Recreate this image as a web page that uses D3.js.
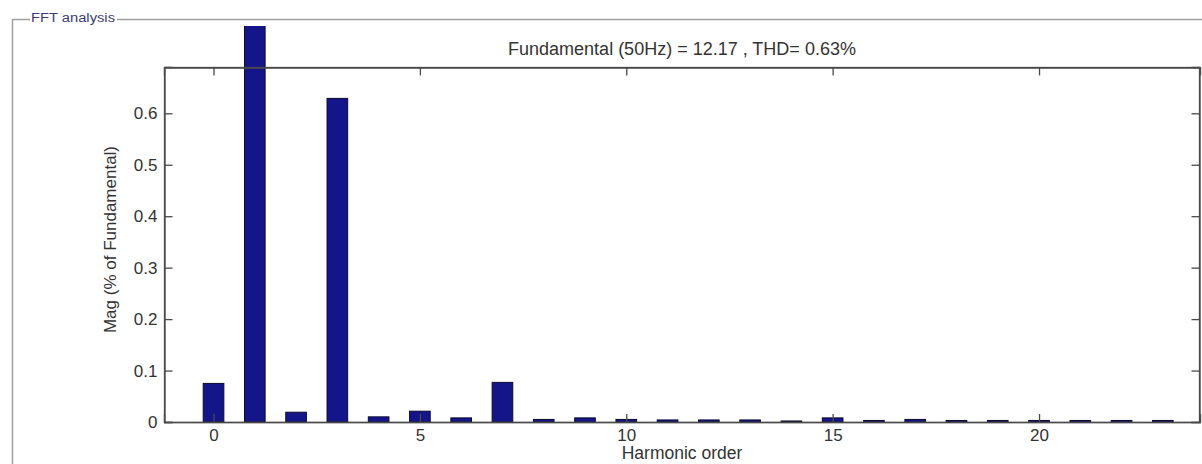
<!DOCTYPE html>
<html>
<head>
<meta charset="utf-8">
<script src="https://cdn.jsdelivr.net/npm/d3@7"></script>
<style>
  html, body { margin: 0; padding: 0; background: #fff; overflow: hidden; }
  svg { display: block; font-family: "Liberation Sans", Arial, sans-serif; }
</style>
</head>
<body>
<svg id="chart" width="1202" height="464"></svg>
<script>
// ---- data ----
const harmonics = [0,1,2,3,4,5,6,7,8,9,10,11,12,13,14,15,16,17,18,19,20,21,22,23];
const magnitudes = [0.075,100,0.019,0.629,0.010,0.021,0.008,0.077,0.005,0.008,0.005,0.004,0.004,0.004,0.002,0.008,0.003,0.005,0.003,0.003,0.003,0.003,0.003,0.003];
const xTicks = [0,5,10,15,20];
const yTicks = [0,0.1,0.2,0.3,0.4,0.5,0.6];
const titleText = "Fundamental (50Hz) = 12.17 , THD= 0.63%";
const xLabel = "Harmonic order";
const yLabel = "Mag (% of Fundamental)";
const panelLabel = "FFT analysis";

// ---- layout ----
const W = 1202, H = 464;
const plot = { left: 164, right: 1200, top: 67, bottom: 422 };
const svg = d3.select("#chart");

const x = d3.scaleLinear().domain([-1.2, 23.9]).range([plot.left, plot.right]);
const y = d3.scaleLinear().domain([0, 0.69]).range([plot.bottom, plot.top]);
const barW = x(0.5) - x(0);

// panel frame
const panelColor = "#a0a0a0";
svg.append("path")
  .attr("d", `M30,19.5 H12.5 V464`)
  .attr("fill", "none").attr("stroke", panelColor).attr("stroke-width", 1.5);
svg.append("path")
  .attr("d", `M117,19.5 H1202`)
  .attr("fill", "none").attr("stroke", panelColor).attr("stroke-width", 1.5);
svg.append("text")
  .attr("x", 31).attr("y", 21.5)
  .attr("font-size", 12).attr("fill", "#3b3b72")
  .attr("textLength", 84).attr("lengthAdjust", "spacingAndGlyphs")
  .text(panelLabel);

// clip: bars may exceed the axes but are cut by the panel
svg.append("clipPath").attr("id", "barclip")
  .append("rect").attr("x", 0).attr("y", 26).attr("width", W).attr("height", H);

// bars
svg.append("g").attr("clip-path", "url(#barclip)")
  .selectAll("rect").data(harmonics).join("rect")
  .attr("x", (d) => x(d) - barW / 2)
  .attr("y", (d, i) => y(magnitudes[i]))
  .attr("width", barW)
  .attr("height", (d, i) => y(0) - y(magnitudes[i]))
  .attr("fill", "#15158a")
  .attr("stroke", "#0a0a30")
  .attr("stroke-width", 1);

const axisColor = "#4a4a4a";
const tickLen = 8;
const fs = 17;
const textColor = "#333";

// box
svg.append("rect")
  .attr("x", plot.left + 0.5).attr("y", plot.top + 0.5)
  .attr("width", plot.right - plot.left - 1).attr("height", plot.bottom - plot.top)
  .attr("fill", "none").attr("stroke", axisColor).attr("stroke-width", 1.3);

const bottomAxis = d3.axisBottom(x).tickValues(xTicks).tickSize(-tickLen).tickPadding(7).tickFormat(d3.format("d"));
const gB = svg.append("g").attr("transform", `translate(0,${plot.bottom})`).call(bottomAxis);
const topAxis = d3.axisTop(x).tickValues(xTicks).tickSize(-tickLen).tickFormat("");
const gT = svg.append("g").attr("transform", `translate(0,${plot.top + 0.5})`).call(topAxis);
const leftAxis = d3.axisLeft(y).tickValues(yTicks).tickSize(-tickLen).tickPadding(7).tickFormat((d) => d === 0 ? "0" : d3.format(".1f")(d));
const gL = svg.append("g").attr("transform", `translate(${plot.left + 0.5},0)`).call(leftAxis);
const rightAxis = d3.axisRight(y).tickValues(yTicks).tickSize(-tickLen).tickFormat("");
const gR = svg.append("g").attr("transform", `translate(${plot.right - 0.5},0)`).call(rightAxis);

[gB, gT, gL, gR].forEach((g) => {
  g.select(".domain").attr("stroke", axisColor).attr("stroke-width", 1.3);
  g.selectAll(".tick line").attr("stroke", axisColor).attr("stroke-width", 1.3);
  g.selectAll(".tick text").attr("fill", textColor).attr("font-size", fs)
    .attr("font-family", "'Liberation Sans', Arial, sans-serif");
});
gB.selectAll(".tick text").attr("dy", "0.71em");

// title
svg.append("text")
  .attr("x", (plot.left + plot.right) / 2).attr("y", 55)
  .attr("text-anchor", "middle").attr("font-size", 18).attr("fill", textColor)
  .text(titleText);

// x label
svg.append("text")
  .attr("x", (plot.left + plot.right) / 2).attr("y", 459)
  .attr("text-anchor", "middle").attr("font-size", 17.5).attr("fill", textColor)
  .text(xLabel);

// y label
svg.append("text")
  .attr("transform", `translate(116,${(plot.top + plot.bottom) / 2 - 5}) rotate(-90)`)
  .attr("text-anchor", "middle").attr("font-size", 17).attr("fill", textColor)
  .text(yLabel);
</script>
</body>
</html>
